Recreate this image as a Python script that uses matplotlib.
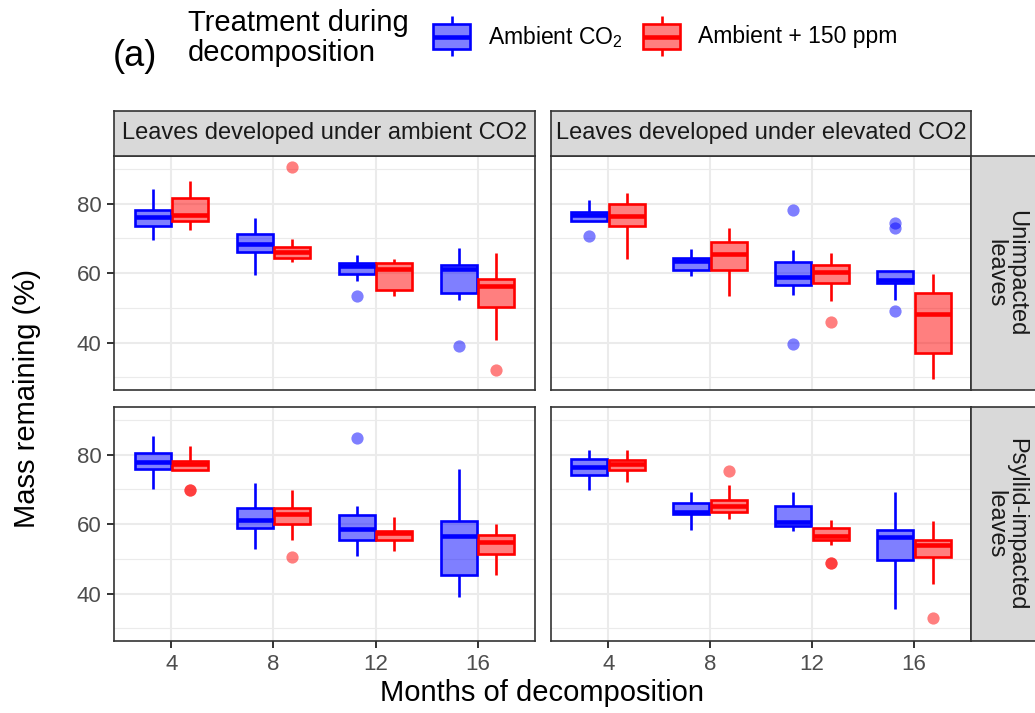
import numpy as np
import matplotlib
matplotlib.use('Agg')
import matplotlib.pyplot as plt
from matplotlib.colors import to_rgba

plt.rcParams['font.family'] = ['Liberation Sans', 'DejaVu Sans']
plt.rcParams['mathtext.fontset'] = 'custom'
plt.rcParams['mathtext.rm'] = 'Liberation Sans'

months = [4, 8, 12, 16]
treat_labels = ['Ambient CO$_\\mathregular{2}$', 'Ambient + 150 ppm']
treat_colors = ['#0000FF', '#FF0000']
origin_labels = ['Leaves developed under ambient CO2', 'Leaves developed under elevated CO2']
status_labels = ['Unimpacted\nleaves', 'Psyllid-impacted\nleaves']

# box summaries per month: [whisker low, q1, median, q3, whisker high]
# ambient-grown leaves, unimpacted
amb_unimp_ctrl = [[69.5, 73.6, 76.2, 78.3, 84.3], [59.5, 66.1, 68.5, 71.4, 75.9],
                  [57.8, 59.7, 62.2, 63.0, 65.3], [52.3, 54.2, 61.2, 62.4, 67.3]]
amb_unimp_ctrl_out = [[], [], [53.5], [39.1]]
amb_unimp_plus = [[72.3, 75.1, 76.8, 81.6, 86.7], [63.3, 64.5, 66.1, 67.6, 69.9],
                  [53.4, 55.2, 61.1, 62.8, 64.2], [40.8, 50.2, 56.3, 58.3, 65.7]]
amb_unimp_plus_out = [[], [90.7], [], [32.0]]

# elevated-grown leaves, unimpacted
elev_unimp_ctrl = [[74.9, 74.9, 76.7, 77.6, 81.2], [59.2, 60.9, 63.4, 64.4, 67.0],
                   [53.6, 56.6, 59.0, 63.1, 66.6], [52.3, 57.2, 58.1, 60.7, 60.7]]
elev_unimp_ctrl_out = [[70.6], [], [78.1, 39.5], [74.6, 72.9, 49.1]]
elev_unimp_plus = [[64.0, 73.5, 76.6, 80.0, 83.0], [53.4, 60.9, 65.4, 69.0, 73.0],
                   [52.1, 57.1, 60.2, 62.4, 65.8], [29.4, 37.1, 48.3, 54.3, 59.9]]
elev_unimp_plus_out = [[], [], [45.9], []]

# ambient-grown leaves, psyllid impacted
amb_psyl_ctrl = [[70.2, 76.0, 78.0, 80.5, 85.3], [52.8, 58.8, 61.3, 64.8, 72.0],
                 [50.9, 55.5, 58.7, 62.5, 65.1], [39.0, 45.3, 56.7, 60.9, 75.9]]
amb_psyl_ctrl_out = [[], [], [84.8], []]
amb_psyl_plus = [[75.5, 75.5, 77.2, 78.1, 82.5], [55.3, 60.1, 62.8, 64.8, 69.9],
                 [52.4, 55.5, 57.5, 58.1, 62.2], [45.3, 51.5, 55.0, 56.9, 60.0]]
amb_psyl_plus_out = [[69.8, 69.8], [50.6], [], []]

# elevated-grown leaves, psyllid impacted
elev_psyl_ctrl = [[69.9, 74.3, 76.6, 78.8, 81.3], [58.3, 62.8, 63.6, 66.2, 69.2],
                  [58.0, 59.5, 60.6, 65.1, 69.3], [35.5, 49.8, 56.2, 58.4, 69.2]]
elev_psyl_ctrl_out = [[], [], [], []]
elev_psyl_plus = [[72.1, 75.6, 77.2, 78.5, 81.4], [61.6, 63.4, 65.2, 66.9, 71.2],
                  [54.0, 55.3, 56.5, 58.8, 61.1], [42.7, 50.5, 53.9, 55.5, 60.9]]
elev_psyl_plus_out = [[], [75.2], [48.7, 48.7], [33.1]]

panels = [[(amb_unimp_ctrl, amb_unimp_ctrl_out, amb_unimp_plus, amb_unimp_plus_out),
           (elev_unimp_ctrl, elev_unimp_ctrl_out, elev_unimp_plus, elev_unimp_plus_out)],
          [(amb_psyl_ctrl, amb_psyl_ctrl_out, amb_psyl_plus, amb_psyl_plus_out),
           (elev_psyl_ctrl, elev_psyl_ctrl_out, elev_psyl_plus, elev_psyl_plus_out)]]


def make_stats(summ, outl):
    stats = []
    for s, o in zip(summ, outl):
        stats.append(dict(whislo=s[0], q1=s[1], med=s[2], q3=s[3], whishi=s[4], fliers=o))
    return stats


W, H = 1035, 713
def px_rect(x0, y0, x1, y1):
    return [x0 / W, 1 - y1 / H, (x1 - x0) / W, (y1 - y0) / H]

fig = plt.figure(figsize=(W / 100, H / 100), dpi=100)

col_x = [(114, 535), (551, 971)]
row_y = [(156, 390), (407, 641)]
border = '#333333'
lw_box = 1.9
lw_med = 3.3

allvals = []
for row in panels:
    for p in row:
        for s in p[0] + p[2]:
            allvals += s
        for o in p[1] + p[3]:
            allvals += o
ymin, ymax = min(allvals), max(allvals)
pad = 0.05 * (ymax - ymin)

offset = 0.74
bw = 1.41
for r in range(2):
    for c in range(2):
        ax = fig.add_axes(px_rect(col_x[c][0], row_y[r][0], col_x[c][1], row_y[r][1]))
        ctrl, ctrl_out, plus, plus_out = panels[r][c]
        for k, (summ, outl) in enumerate([(ctrl, ctrl_out), (plus, plus_out)]):
            col = treat_colors[k]
            pos = [m + (2 * k - 1) * offset for m in months]
            ax.bxp(make_stats(summ, outl), positions=pos, widths=bw, patch_artist=True,
                   showcaps=False, manage_ticks=False,
                   boxprops=dict(facecolor=to_rgba(col, 0.5), edgecolor=col, linewidth=lw_box),
                   medianprops=dict(color=col, linewidth=lw_med, solid_capstyle='butt'),
                   whiskerprops=dict(color=col, linewidth=lw_box, solid_capstyle='butt'),
                   flierprops=dict(marker='o', markerfacecolor=to_rgba(col, 0.5),
                                   markeredgecolor='none', markersize=8.8))
        ax.set_xlim(1.75, 18.25)
        ax.set_ylim(ymin - pad, ymax + pad)
        ax.set_xticks(months)
        ax.set_yticks([40, 60, 80])
        ax.set_yticks([30, 50, 70, 90], minor=True)
        ax.grid(True, which='major', color='#EBEBEB', linewidth=1.5)
        ax.grid(True, which='minor', axis='y', color='#EBEBEB', linewidth=0.8)
        ax.set_axisbelow(True)
        for sp in ax.spines.values():
            sp.set_color(border)
            sp.set_linewidth(1.2)
        ax.tick_params(which='minor', length=0)
        ax.tick_params(axis='both', which='major', color=border, width=1.4, length=5,
                       labelcolor='#4D4D4D', labelsize=16, pad=4)
        if c == 1:
            ax.tick_params(axis='y', which='major', length=0, labelleft=False)
        if r == 0:
            ax.tick_params(axis='x', which='major', length=0, labelbottom=False)

        if r == 0:
            sx = fig.add_axes(px_rect(col_x[c][0], 111, col_x[c][1], 156))
            sx.set_facecolor('#D9D9D9')
            sx.set_xticks([])
            sx.set_yticks([])
            for sp in sx.spines.values():
                sp.set_color(border)
                sp.set_linewidth(1.2)
            sx.text(0.5, 0.5, origin_labels[c], ha='center', va='center',
                    fontsize=17, color='#1A1A1A', transform=sx.transAxes)
        if c == 1:
            sy = fig.add_axes(px_rect(971, row_y[r][0], 1041, row_y[r][1]))
            sy.set_facecolor('#D9D9D9')
            sy.set_xticks([])
            sy.set_yticks([])
            for sp in sy.spines.values():
                sp.set_color(border)
                sp.set_linewidth(1.2)
            sy.text(0.5, 0.5, status_labels[r], ha='center', va='center', rotation=-90,
                    fontsize=17, color='#1A1A1A', linespacing=0.95,
                    transform=sy.transAxes)

fig.text(27 / W, 1 - 398 / H, 'Mass remaining (%)', rotation=90, ha='center', va='center',
         fontsize=21)
fig.text(542 / W, 1 - 693 / H, 'Months of decomposition', ha='center', va='center',
         fontsize=21)

# legend row along the top
lg = fig.add_axes([0, 0, 1, 1])
lg.set_xlim(0, W)
lg.set_ylim(H, 0)
lg.axis('off')
lg.text(113, 57, '(a)', fontsize=26, ha='left', va='center')
lg.text(188, 38, 'Treatment during\ndecomposition', fontsize=21, ha='left', va='center',
        linespacing=1.1)
key_x = [433, 643]
for k in range(2):
    col = treat_colors[k]
    x0 = key_x[k]
    lg.add_patch(plt.Rectangle((x0, 24), 37, 25, facecolor=to_rgba(col, 0.5),
                               edgecolor=col, linewidth=lw_box))
    lg.plot([x0, x0 + 37], [36.5, 36.5], color=col, linewidth=lw_med, solid_capstyle='butt')
    lg.plot([x0 + 18.5, x0 + 18.5], [16, 24], color=col, linewidth=lw_box, solid_capstyle='butt')
    lg.plot([x0 + 18.5, x0 + 18.5], [49, 56], color=col, linewidth=lw_box, solid_capstyle='butt')
    lg.text(x0 + 55, 37, treat_labels[k], fontsize=16.5, ha='left', va='center')

fig.savefig('out.png', dpi=100)
